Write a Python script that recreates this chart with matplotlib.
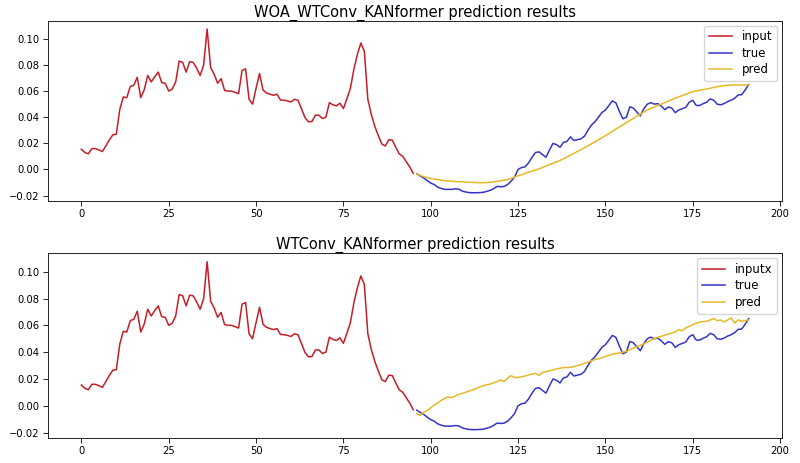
import numpy as np
import matplotlib
matplotlib.use("Agg")
import matplotlib.pyplot as plt

# input window (index 0..95)
input_vals = [
    0.0155, 0.0130, 0.0120, 0.0160, 0.0160, 0.0150, 0.0137, 0.0180, 0.0225, 0.0265,
    0.0270, 0.0460, 0.0555, 0.0550, 0.0635, 0.0645, 0.0705, 0.0550, 0.0610, 0.0720,
    0.0670, 0.0710, 0.0745, 0.0665, 0.0660, 0.0600, 0.0615, 0.0670, 0.0830, 0.0820,
    0.0745, 0.0825, 0.0820, 0.0775, 0.0720, 0.0800, 0.1075, 0.0780, 0.0730, 0.0660,
    0.0695, 0.0605, 0.0600, 0.0600, 0.0590, 0.0580, 0.0758, 0.0770, 0.0537, 0.0500,
    0.0620, 0.0735, 0.0608, 0.0585, 0.0576, 0.0568, 0.0576, 0.0532, 0.0530, 0.0525,
    0.0517, 0.0537, 0.0530, 0.0465, 0.0398, 0.0365, 0.0367, 0.0416, 0.0416, 0.0390,
    0.0400, 0.0512, 0.0495, 0.0487, 0.0507, 0.0466, 0.0540, 0.0620, 0.0766, 0.0880,
    0.0968, 0.0905, 0.0537, 0.0420, 0.0330, 0.0259, 0.0195, 0.0180, 0.0228, 0.0225,
    0.0170, 0.0119, 0.0100, 0.0060, 0.0020, -0.0030,
]

# ground truth (index 96..191)
true_vals = [
    -0.0033, -0.0050, -0.0065, -0.0085, -0.0104, -0.0115, -0.0135, -0.0145, -0.0152, -0.0152,
    -0.0152, -0.0148, -0.0150, -0.0165, -0.0172, -0.0177, -0.0178, -0.0178, -0.0177, -0.0175,
    -0.0168, -0.0160, -0.0147, -0.0129, -0.0132, -0.0130, -0.0115, -0.0090, -0.0058, 0.0000,
    0.0015, 0.0020, 0.0050, 0.0094, 0.0130, 0.0135, 0.0114, 0.0094, 0.0150, 0.0200,
    0.0190, 0.0170, 0.0208, 0.0215, 0.0250, 0.0222, 0.0228, 0.0235, 0.0255, 0.0300,
    0.0340, 0.0365, 0.0400, 0.0436, 0.0455, 0.0490, 0.0525, 0.0510, 0.0445, 0.0388,
    0.0400, 0.0480, 0.0470, 0.0440, 0.0410, 0.0465, 0.0500, 0.0512, 0.0500, 0.0504,
    0.0485, 0.0458, 0.0478, 0.0470, 0.0435, 0.0455, 0.0465, 0.0475, 0.0515, 0.0530,
    0.0490, 0.0490, 0.0504, 0.0515, 0.0540, 0.0530, 0.0500, 0.0495, 0.0505, 0.0520,
    0.0530, 0.0545, 0.0570, 0.0572, 0.0608, 0.0650,
]

# WOA_WTConv_KANformer prediction
pred_woa = [
    -0.0033, -0.0045, -0.0055, -0.0062, -0.0068, -0.0073, -0.0077, -0.0081, -0.0085, -0.0088,
    -0.0090, -0.0092, -0.0094, -0.0095, -0.0096, -0.0098, -0.0099, -0.0100, -0.0101, -0.0101,
    -0.0100, -0.0098, -0.0095, -0.0091, -0.0087, -0.0082, -0.0078, -0.0068, -0.0058, -0.0048,
    -0.0040, -0.0030, -0.0021, -0.0012, -0.0004, 0.0005, 0.0016, 0.0027, 0.0038, 0.0048,
    0.0058, 0.0069, 0.0081, 0.0096, 0.0110, 0.0124, 0.0138, 0.0152, 0.0167, 0.0181,
    0.0196, 0.0212, 0.0228, 0.0242, 0.0258, 0.0275, 0.0292, 0.0309, 0.0326, 0.0342,
    0.0358, 0.0375, 0.0391, 0.0407, 0.0423, 0.0440, 0.0456, 0.0467, 0.0478, 0.0490,
    0.0501, 0.0512, 0.0523, 0.0535, 0.0546, 0.0556, 0.0566, 0.0576, 0.0586, 0.0596,
    0.0601, 0.0606, 0.0611, 0.0616, 0.0622, 0.0628, 0.0634, 0.0638, 0.0642, 0.0645,
    0.0646, 0.0647, 0.0647, 0.0646, 0.0646, 0.0648,
]

# WTConv_KANformer prediction
pred_wt = [
    -0.0058, -0.0072, -0.0050, -0.0035, -0.0015, 0.0005, 0.0022, 0.0040, 0.0055, 0.0065,
    0.0060, 0.0072, 0.0085, 0.0092, 0.0100, 0.0110, 0.0118, 0.0128, 0.0140, 0.0150,
    0.0155, 0.0162, 0.0170, 0.0180, 0.0193, 0.0180, 0.0205, 0.0225, 0.0210, 0.0212,
    0.0215, 0.0222, 0.0230, 0.0235, 0.0242, 0.0225, 0.0250, 0.0255, 0.0260, 0.0268,
    0.0275, 0.0280, 0.0285, 0.0285, 0.0287, 0.0292, 0.0300, 0.0305, 0.0318, 0.0325,
    0.0335, 0.0345, 0.0350, 0.0358, 0.0368, 0.0375, 0.0385, 0.0390, 0.0393, 0.0400,
    0.0405, 0.0418, 0.0430, 0.0440, 0.0450, 0.0462, 0.0475, 0.0490, 0.0500, 0.0510,
    0.0518, 0.0526, 0.0535, 0.0542, 0.0550, 0.0568, 0.0560, 0.0580, 0.0593, 0.0605,
    0.0617, 0.0625, 0.0628, 0.0630, 0.0640, 0.0650, 0.0635, 0.0640, 0.0625, 0.0640,
    0.0655, 0.0617, 0.0640, 0.0630, 0.0635, 0.0640,
]

titles = ['WOA_WTConv_KANformer prediction results', 'WTConv_KANformer prediction results']
input_labels = ['input', 'inputx']

x_in = np.arange(len(input_vals))
x_out = np.arange(len(input_vals), len(input_vals) + len(true_vals))

fig = plt.figure(figsize=(8, 4.63), dpi=100)
ax1 = fig.add_axes([0.06, 0.566, 0.9175, 0.389])
ax2 = fig.add_axes([0.06, 0.054, 0.9175, 0.399])

for ax, pred, title, lab in zip([ax1, ax2], [pred_woa, pred_wt], titles, input_labels):
    ax.plot(x_in, input_vals, color='#c41e28', lw=1.1, label=lab)
    ax.plot(x_out, true_vals, color='#3535c8', lw=1.1, label='true')
    ax.plot(x_out, pred, color='#e8b828', lw=1.1, label='pred')
    ax.set_title(title, fontsize=10.5, pad=3)
    ax.set_yticks([-0.02, 0.0, 0.02, 0.04, 0.06, 0.08, 0.10])
    ax.set_xticks([0, 25, 50, 75, 100, 125, 150, 175, 200])
    ax.tick_params(labelsize=7.2, length=3.5, width=0.6, pad=2.5)
    for s in ax.spines.values():
        s.set_linewidth(0.6)
    ax.legend(loc='upper right', fontsize=8.5, handlelength=2.0, borderpad=0.4,
              labelspacing=0.3, borderaxespad=0.4)

plt.savefig('out.png', dpi=100)
